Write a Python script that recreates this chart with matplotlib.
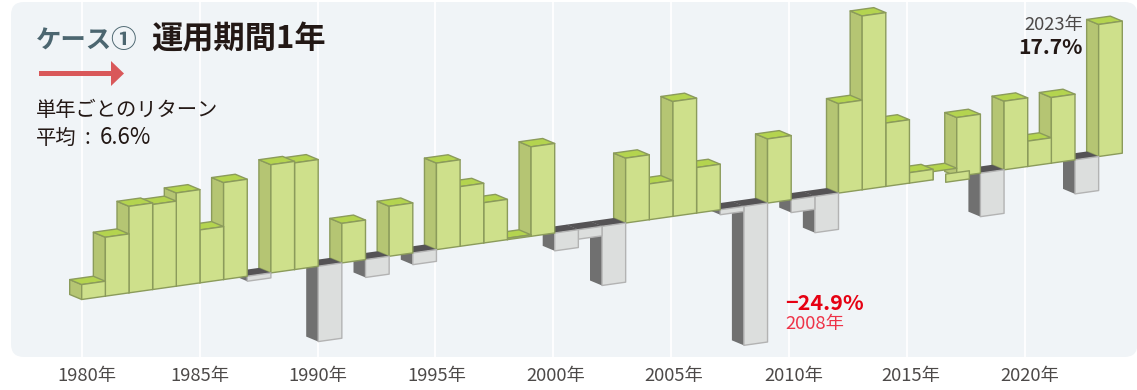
import matplotlib
matplotlib.use("Agg")
import matplotlib.pyplot as plt
import numpy as np
from matplotlib.patches import FancyArrow, FancyBboxPatch, Polygon
from matplotlib.transforms import Affine2D, IdentityTransform, ScaledTranslation

plt.rcParams['font.family'] = ['Noto Sans CJK JP', 'DejaVu Sans']

years = np.arange(1980, 2024)
returns = [
    2.0, 7.9, 11.6, 11.4, 12.5, 7.1, 13.0, -0.9, 14.5, 14.3,
    -13.5, 5.3, -3.2, 6.7, -2.1, 11.6, 8.0, 5.4, 0.2, 12.0,
    -3.2, -1.7, -10.6, 8.7, 4.8, 15.4, 6.1, -0.9, -24.9, 8.6,
    -2.3, -6.5, 12.0, 23.3, 8.5, 1.4, 1.1, 7.9, -7.8, 9.2,
    3.4, 8.8, -6.1, 17.7,
]
tick_years = [1980, 1985, 1990, 1995, 2000, 2005, 2010, 2015, 2020]
tick_labels = [f"{y}年" for y in tick_years]

# bar geometry, in pixels
BAR_W = 23.65
LEFT = 81.7
BASE_Y = 299.5
SLOPE = 0.1406
DEPTH = (-12.0, 5.0)
UP_PX = 7.46    # px per % above the baseline
DOWN_PX = 5.58  # px per % below it
FRONT_NUDGE = {2016: (12.6, -2.5)}  # this front panel sits off its own top
LABEL_NUDGE = [4, 0, 0, 1, 1.5, 1.5, 3.5, 2.5, 3.5]

GREEN_FRONT = '#cee08b'
GREEN_SIDE = '#b5c573'
GREEN_TOP = '#b4d44f'
GREEN_EDGE = '#8b9b5b'
GRAY_FRONT = '#dcdedd'
GRAY_SIDE = '#707070'
GRAY_TOP = '#555355'
GRAY_EDGE = '#b3b3b3'
PANEL = '#f0f4f7'
W, H = 1137, 390


def forward(v):
    v = np.asarray(v, dtype=float)
    return np.where(v >= 0, v * UP_PX, v * DOWN_PX)


def inverse(v):
    v = np.asarray(v, dtype=float)
    return np.where(v >= 0, v / UP_PX, v / DOWN_PX)


fig = plt.figure(figsize=(W / 100, H / 100), dpi=100, facecolor='white')
ax = fig.add_axes([11 / W, 33 / H, (W - 11) / W, 355 / H])
ax.patch.set_visible(False)
for spine in ax.spines.values():
    spine.set_visible(False)
ax.set_yscale('function', functions=(forward, inverse))
ax.set_xlim(1980 + (11 - LEFT) / BAR_W, 1980 + (W - LEFT) / BAR_W)
ax.set_ylim(-(357 - BASE_Y) / DOWN_PX, (BASE_Y - 2) / UP_PX)
ax.set_yticks([])
ax.minorticks_off()

# gridlines sit a touch tighter than the bars
grid_pos = 1980 + (np.array(tick_years) - 1980) * 0.9972
ax.set_xticks(grid_pos, tick_labels)
ax.tick_params(axis='x', length=0, pad=7.5, labelsize=13.2, labelcolor='#4c4948')
ax.grid(True, axis='x', color='white', linewidth=1.3)
ax.set_axisbelow(True)
for lab, dx in zip(ax.get_xticklabels(), LABEL_NUDGE):
    lab.set_transform(lab.get_transform() + ScaledTranslation(dx / 72, 0, fig.dpi_scale_trans))

# top-left origin pixels for the panel and the annotations
px = Affine2D().scale(1, -1).translate(0, H)
ax.add_patch(FancyBboxPatch((11, 2), W - 11 + 0.5, 355, boxstyle='round,pad=0,rounding_size=13',
                            facecolor=PANEL, edgecolor='none', transform=px, clip_on=False, zorder=0))

# shear the data space so the baseline climbs to the right
shear = Affine2D(np.array([[1, 0, 0], [SLOPE, 1, -SLOPE * LEFT], [0, 0, 1]]))
to_screen = ax.transData + shear


def face(points, color, edge=None, lw=1.0):
    ax.add_patch(Polygon(points, closed=True, facecolor=color, edgecolor=edge or 'none',
                         linewidth=lw, joinstyle='round', transform=IdentityTransform(),
                         clip_on=False, zorder=3))


def draw_bar(year, value):
    off = np.array(FRONT_NUDGE.get(year, (0, 0)))
    bl, br = to_screen.transform([(year, 0), (year + 1, 0)])
    tl, tr = to_screen.transform([(year, value), (year + 1, value)])
    d = np.array(DEPTH)
    if value >= 0:
        face([bl, tl, tl + d, bl + d], GREEN_SIDE, GREEN_EDGE)
        face([tl, tr, tr + d, tl + d], GREEN_TOP, GREEN_EDGE)
        face([bl + off, br + off, tr + off, tl + off], GREEN_FRONT, GREEN_EDGE)
    else:
        face([bl, tl, tl + d, bl + d], GRAY_SIDE)
        face([bl, br, br + d, bl + d], GRAY_TOP)
        face([bl, br, tr, tl], GRAY_FRONT, GRAY_EDGE)


# nearer bars are on the left, so paint from the right
for year, value in zip(years[::-1], returns[::-1]):
    draw_bar(year, value)

ax.add_patch(FancyArrow(39, 73.5, 85, 0, width=5, head_width=25, head_length=13,
                        length_includes_head=True, color='#d9585a', linewidth=0,
                        transform=px, clip_on=False, zorder=4))


def label(x, y, s, size, color, weight='normal', ha='left'):
    ax.text(x, y, s, fontsize=size, color=color, fontweight=weight, ha=ha, va='baseline',
            transform=px, clip_on=False, zorder=5)


label(36, 47.5, "ケース①", 18.3, '#4c6670', 'bold')
label(151, 48.5, "運用期間1年", 22.5, '#231815', 'bold')
label(36, 116, "単年ごとのリターン", 14.6, '#231815')
label(36, 144, "平均", 14.6, '#231815')
label(85, 144, ":", 15, '#231815')
label(100, 144, "6.6%", 16, '#231815')
label(1083, 30, "2023年", 13.2, '#4c4948', ha='right')
label(1083, 54, "17.7%", 15.2, '#231815', 'bold', ha='right')
label(785, 310, "−24.9%", 15.5, '#e60012', 'bold')
label(785, 329, "2008年", 13.2, '#ee3348')

fig.savefig('out.png', dpi=100, facecolor='white')
plt.close(fig)
